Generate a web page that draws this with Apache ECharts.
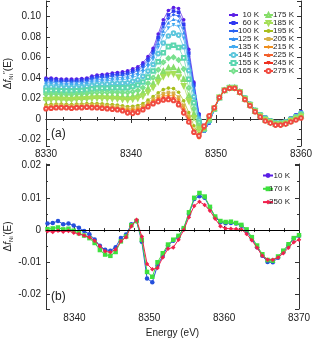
<!DOCTYPE html>
<html><head><meta charset="utf-8">
<script src="https://cdn.jsdelivr.net/npm/echarts@6/dist/echarts.min.js"></script>
<style>html,body{margin:0;padding:0;background:#fff}#c{width:312px;height:339px}</style>
</head><body><div id="c"></div>
<script>
// ---------- Panel (a) data ----------
const energyA = [8330.0,8330.6,8331.2,8331.8,8332.4,8333.0,8333.6,8334.2,8334.8,8335.4,8336.0,8336.6,8337.2,8337.8,8338.4,8339.0,8339.6,8340.2,8340.8,8341.4,8342.0,8342.6,8343.2,8343.8,8344.4,8345.0,8345.6,8346.2,8346.8,8347.4,8348.0,8348.6,8349.2,8349.8,8350.4,8351.0,8351.6,8352.2,8352.8,8353.4,8354.0,8354.6,8355.2,8355.8,8356.4,8357.0,8357.6,8358.2,8358.8,8359.4,8360.0];
const namesA = ['10 K','60 K','100 K','125 K','135 K','145 K','155 K','165 K','175 K','185 K','195 K','205 K','215 K','225 K','245 K','275 K'];
const a10  = [0.040,0.040,0.0395,0.039,0.039,0.039,0.039,0.0395,0.040,0.042,0.043,0.0435,0.044,0.045,0.0455,0.046,0.047,0.049,0.051,0.055,0.061,0.069,0.083,0.097,0.106,0.109,0.108,0.097,0.068,0.036,0.005,-0.012,-0.004,0.009,0.021,0.028,0.031,0.031,0.027,0.021,0.015,0.009,0.005,0.002,-0.001,-0.003,-0.003,-0.002,0.001,0.004,0.007];
const a60  = [0.0385,0.0385,0.0381,0.0376,0.0378,0.0374,0.0377,0.0381,0.0386,0.0404,0.0414,0.0418,0.0423,0.0432,0.0437,0.0441,0.045,0.0469,0.0488,0.0527,0.0585,0.0663,0.0797,0.0931,0.1017,0.1055,0.1043,0.0924,0.0644,0.0335,0.004,-0.0117,-0.0036,0.0091,0.021,0.028,0.031,0.031,0.027,0.021,0.015,0.009,0.0049,0.0018,-0.0012,-0.0032,-0.0032,-0.0022,0.0008,0.0037,0.0067];
const a100 = [0.0373,0.0371,0.0369,0.0365,0.0366,0.0364,0.0367,0.0369,0.0374,0.0392,0.0401,0.0405,0.0409,0.0418,0.0422,0.0426,0.0434,0.0452,0.0471,0.0509,0.0566,0.0641,0.0771,0.0899,0.0983,0.1019,0.1006,0.0888,0.0616,0.0316,0.0031,-0.0115,-0.0034,0.0092,0.0212,0.0282,0.0309,0.0309,0.0269,0.0208,0.0148,0.0088,0.0047,0.0016,-0.0013,-0.0033,-0.0033,-0.0023,0.0006,0.0035,0.0065];
const a125 = [0.0358,0.0359,0.0355,0.0351,0.0349,0.035,0.0353,0.0355,0.036,0.0377,0.0385,0.0389,0.0392,0.04,0.0404,0.0407,0.0414,0.0431,0.0449,0.0486,0.0541,0.0614,0.0738,0.086,0.094,0.0974,0.096,0.0843,0.0581,0.0291,0.0021,-0.0113,-0.003,0.0093,0.0208,0.0279,0.0309,0.0308,0.0269,0.0207,0.0147,0.0087,0.0046,0.0014,-0.0014,-0.0034,-0.0034,-0.0024,0.0004,0.0033,0.0062];
const a135 = [0.034,0.0341,0.0338,0.0334,0.0332,0.0333,0.0336,0.0338,0.0343,0.0358,0.0366,0.0369,0.0372,0.0379,0.0382,0.0384,0.039,0.0406,0.0423,0.0458,0.0512,0.0582,0.0698,0.0813,0.0888,0.092,0.0904,0.0788,0.0538,0.0262,0.0008,-0.011,-0.0026,0.0094,0.021,0.0281,0.0308,0.0308,0.0268,0.0206,0.0146,0.0086,0.0044,0.0012,-0.0016,-0.0036,-0.0036,-0.0026,0.0002,0.003,0.0058];
const a145 = [0.0313,0.0314,0.0312,0.0309,0.0307,0.0307,0.031,0.0312,0.0317,0.033,0.0337,0.0339,0.0341,0.0347,0.0349,0.035,0.0354,0.0368,0.0384,0.0417,0.0468,0.0533,0.0639,0.0742,0.0811,0.0839,0.082,0.0706,0.0474,0.0218,-0.0011,-0.0106,-0.002,0.0096,0.0211,0.028,0.0307,0.0307,0.0267,0.0204,0.0144,0.0084,0.0041,0.0008,-0.0019,-0.0039,-0.0039,-0.0029,-0.0002,0.0025,0.0053];
const a155 = [0.0277,0.0279,0.0278,0.0275,0.0273,0.0273,0.0276,0.0278,0.0283,0.0293,0.0299,0.03,0.0301,0.0304,0.0305,0.0304,0.0306,0.0318,0.0332,0.0361,0.0409,0.0469,0.0559,0.0648,0.0707,0.0721,0.0699,0.0597,0.0389,0.0159,-0.0036,-0.01,-0.0011,0.0098,0.0209,0.0281,0.0306,0.0306,0.0266,0.0202,0.0142,0.0082,0.0038,0.0004,-0.0022,-0.0042,-0.0042,-0.0032,-0.0006,0.002,0.0045];
const a165 = [0.0241,0.0244,0.0244,0.0242,0.024,0.0239,0.0243,0.0244,0.0249,0.0256,0.026,0.026,0.026,0.0262,0.0262,0.0259,0.0258,0.0267,0.0279,0.0306,0.035,0.0404,0.048,0.0554,0.0594,0.0603,0.0577,0.0488,0.0304,0.01,-0.0061,-0.0094,-0.0003,0.0101,0.0211,0.028,0.0305,0.0305,0.0265,0.0199,0.0139,0.0079,0.0034,0.0,-0.0026,-0.0046,-0.0046,-0.0036,-0.0011,0.0014,0.0038];
const a175 = [0.0208,0.0211,0.0213,0.0211,0.0209,0.0208,0.0212,0.0213,0.0218,0.0222,0.0225,0.0224,0.0222,0.0223,0.0221,0.0217,0.0214,0.0221,0.0232,0.0256,0.0296,0.0344,0.0408,0.0468,0.05,0.0504,0.0475,0.0388,0.0226,0.0046,-0.0084,-0.0088,0.0005,0.0103,0.021,0.0279,0.0304,0.0304,0.0264,0.0197,0.0137,0.0077,0.0031,-0.0006,-0.0029,-0.0049,-0.0049,-0.0039,-0.0016,0.0008,0.0032];
const a185 = [0.0187,0.0191,0.0193,0.0191,0.0189,0.0188,0.0192,0.0193,0.0198,0.02,0.0203,0.0201,0.0199,0.0198,0.0196,0.019,0.0186,0.0192,0.0201,0.0223,0.0262,0.0307,0.0361,0.0413,0.0439,0.0441,0.041,0.0324,0.0176,0.0012,-0.0099,-0.0085,0.001,0.0104,0.0211,0.028,0.0303,0.0303,0.0263,0.0196,0.0136,0.0076,0.0029,-0.0008,-0.0031,-0.0051,-0.0051,-0.0041,-0.0018,0.0005,0.0027];
const a195 = [0.0139,0.0143,0.0147,0.0146,0.0144,0.0142,0.0147,0.0147,0.0152,0.015,0.0152,0.0148,0.0144,0.0141,0.0137,0.0129,0.0122,0.0125,0.0132,0.015,0.0184,0.022,0.0256,0.0287,0.0302,0.0297,0.0261,0.0178,0.0062,-0.0066,-0.0145,-0.0077,0.0021,0.0107,0.021,0.0282,0.0301,0.0301,0.0261,0.0193,0.0133,0.0073,0.0024,-0.0015,-0.0036,-0.0056,-0.0056,-0.0046,-0.0025,-0.0003,0.0018];
const a205 = [0.0124,0.0128,0.0133,0.0133,0.0132,0.0128,0.0133,0.0133,0.0138,0.0135,0.0136,0.0131,0.0127,0.0123,0.0119,0.011,0.0102,0.0104,0.011,0.0127,0.0159,0.0193,0.0223,0.0248,0.0259,0.0252,0.0214,0.0133,0.0027,-0.011,-0.0165,-0.0074,0.0024,0.0108,0.0209,0.0279,0.0301,0.03,0.026,0.0192,0.0131,0.0072,0.0022,-0.0017,-0.0038,-0.0058,-0.0058,-0.0048,-0.0027,-0.0006,0.0015];
const a215 = [0.0115,0.012,0.0124,0.0124,0.0123,0.0119,0.0124,0.0124,0.0129,0.0126,0.0126,0.0122,0.0117,0.0113,0.0108,0.0099,0.009,0.0091,0.0097,0.0113,0.0145,0.0177,0.0203,0.0224,0.0233,0.0225,0.0187,0.0105,0.0005,-0.0125,-0.0185,-0.009,0.002,0.0108,0.0211,0.028,0.03,0.03,0.026,0.0191,0.0131,0.0071,0.0021,-0.0018,-0.0039,-0.0059,-0.0059,-0.0049,-0.0028,-0.0008,0.0013];
const a225 = [0.0109,0.0114,0.0119,0.0118,0.0117,0.0114,0.0118,0.0119,0.0124,0.0119,0.012,0.0115,0.011,0.0106,0.0101,0.0091,0.0082,0.0083,0.0088,0.0104,0.0135,0.0166,0.019,0.0209,0.0216,0.0207,0.0168,0.0087,-0.001,-0.013,-0.0178,-0.0085,0.0025,0.011,0.021,0.0281,0.03,0.03,0.026,0.019,0.013,0.0071,0.0021,-0.0019,-0.0039,-0.0059,-0.0059,-0.0049,-0.0029,-0.0008,0.0012];
const a245 = [0.0103,0.0108,0.0113,0.0113,0.0112,0.0108,0.0113,0.0113,0.0118,0.0114,0.0113,0.0109,0.0104,0.0099,0.0094,0.0085,0.0068,0.0064,0.0072,0.0097,0.0128,0.0158,0.018,0.0197,0.0203,0.0193,0.0155,0.0074,-0.002,-0.013,-0.0172,-0.0078,0.0028,0.011,0.0211,0.028,0.03,0.03,0.026,0.019,0.013,0.007,0.002,-0.0019,-0.004,-0.006,-0.006,-0.005,-0.003,-0.0009,0.0011];
const a275 = [0.010,0.0105,0.011,0.011,0.011,0.0105,0.011,0.011,0.0115,0.011,0.011,0.0105,0.010,0.0095,0.009,0.008,0.006,0.0055,0.0065,0.009,0.012,0.015,0.017,0.0185,0.019,0.018,0.014,0.006,-0.003,-0.013,-0.0165,-0.007,0.003,0.011,0.021,0.028,0.030,0.030,0.026,0.019,0.013,0.007,0.002,-0.002,-0.004,-0.006,-0.006,-0.005,-0.003,-0.001,0.001];
const valuesA = [a10,a60,a100,a125,a135,a145,a155,a165,a175,a185,a195,a205,a215,a225,a245,a275];

// ---------- Panel (b) data ----------
const energyB = [8336.4,8337.1,8337.8,8338.5,8339.2,8339.9,8340.6,8341.3,8342.0,8342.7,8343.4,8344.1,8344.8,8345.5,8346.2,8346.9,8347.6,8348.3,8349.0,8349.7,8350.4,8351.1,8351.8,8352.5,8353.2,8353.9,8354.6,8355.3,8356.0,8356.7,8357.4,8358.1,8358.8,8359.5,8360.2,8360.9,8361.6,8362.3,8363.0,8363.7,8364.4,8365.1,8365.8,8366.5,8367.2,8367.9,8368.6,8369.3,8370.0];
const namesB = ['10 K','170 K','250 K'];
const b10  = [0.0020,0.0022,0.0028,0.0018,0.0020,0.0014,0.0007,-0.0003,-0.0013,-0.0029,-0.0049,-0.0061,-0.0064,-0.0053,-0.0025,-0.0014,0.0018,0.0028,-0.0036,-0.0150,-0.0162,-0.0110,-0.0080,-0.0048,-0.0033,-0.0021,0.0005,0.0050,0.0096,0.0105,0.0100,0.0070,0.0040,0.0024,0.0021,0.0022,0.0020,0.0013,-0.0003,-0.0027,-0.0053,-0.0080,-0.0099,-0.0100,-0.0086,-0.0069,-0.0047,-0.0026,-0.0018];
const b170 = [0.0003,0.0005,0.0008,0.0002,0.0004,-0.0002,-0.0010,-0.0017,-0.0025,-0.0040,-0.0062,-0.0076,-0.0080,-0.0068,-0.0035,-0.0020,0.0015,0.0028,-0.0030,-0.0130,-0.0145,-0.0100,-0.0072,-0.0045,-0.0030,-0.0018,0.0006,0.0055,0.0100,0.0115,0.0104,0.0072,0.0042,0.0028,0.0025,0.0026,0.0022,0.0016,0.0002,-0.0022,-0.0048,-0.0075,-0.0093,-0.0095,-0.0082,-0.0064,-0.0044,-0.0025,-0.0016];
const b250 = [-0.0004,-0.0006,-0.0002,-0.0005,-0.0003,-0.0008,-0.0012,-0.0017,-0.0022,-0.0033,-0.0050,-0.0066,-0.0069,-0.0060,-0.0035,-0.0022,0.0012,0.0032,-0.0020,-0.0105,-0.0122,-0.0118,-0.0085,-0.0058,-0.0054,-0.0030,0.0000,0.0040,0.0075,0.0088,0.0078,0.0060,0.0035,0.0012,0.0005,0.0004,0.0003,0.0002,-0.0012,-0.0032,-0.0055,-0.0080,-0.0092,-0.0092,-0.0085,-0.0072,-0.0055,-0.0038,-0.0030];
const valuesB = [b10,b170,b250];

// tick steps for labelled values
const yStepA = 0.02, yStepB = 0.01, xStep = 10;

// ---------- styles ----------
const colA = ['#5a1ee6','#3038f0','#2a62f2','#3590f0','#44aaf0','#5cc6dc','#5cd6b0','#78e08e','#86dd6a','#a6df58','#a8be1a','#d8b24a','#f08e1c','#f2602c','#ee3020','#f04a40'];
const symA = ['circle','rect','diamond','triangle','triangle','emptyCircle','emptyRect','emptyDiamond','emptyTriangle','emptyTriangle','circle','rect','diamond','triangle','triangle','emptyCircle'];
const rotA = [0,0,0,0,180,0,0,0,0,180,0,0,0,0,180,0];
const colB = ['#2450dc','#3ee03e','#f0204c'];
const symB = ['circle','rect','diamond'];
const FONT = '"Liberation Sans", Arial, Helvetica, sans-serif';

const chart = echarts.init(document.getElementById('c'), null, {renderer:'canvas'});

const seriesA = namesA.map((n,i)=>({
  name:n, type:'line', xAxisIndex:0, yAxisIndex:0,
  data: energyA.map((e,k)=>[e, valuesA[i][k]]),
  symbol: symA[i], symbolSize: 3.6, symbolRotate: rotA[i],
  itemStyle:{color: colA[i], borderWidth: 0.7},
  lineStyle:{color: colA[i], width: 0.7},
  emphasis:{disabled:true}, animation:false, z: 2+i
}));
const seriesB = namesB.map((n,i)=>({
  name:n, type:'line', xAxisIndex:1, yAxisIndex:1,
  data: energyB.map((e,k)=>[e, valuesB[i][k]]),
  symbol: symB[i], symbolSize: 4.5,
  itemStyle:{color: colB[i]},
  lineStyle:{color: colB[i], width: 1},
  emphasis:{disabled:true}, animation:false, z: 2+i,
  markLine: i===0 ? {silent:true, symbol:'none', label:{show:false}, animation:false,
     lineStyle:{color:'#000', width:1, type:'solid'}, data:[{yAxis:0}]} : undefined
}));

const tk = {color:'#333'};
function ax(extra){
  return Object.assign({
    axisLine:{show:true, lineStyle:{color:'#333', width:1}},
    axisTick:{show:true, inside:true, length:4, lineStyle:tk},
    splitLine:{show:false}
  }, extra);
}
const lab = {fontFamily:FONT, fontSize:10, color:'#222'};
const onStep = (v, s) => Math.abs(v/s - Math.round(v/s)) < 1e-6;
const yFmtA = v => !onStep(v, yStepA) ? '' : (Math.abs(v) < 1e-9 ? '0' : v.toFixed(2));
const yFmtB = v => !onStep(v, yStepB) ? '' : (Math.abs(v) < 1e-9 ? '0' : v.toFixed(2));
const xFmt = v => !onStep(v, xStep) ? '' : String(Math.round(v));

const nameRich = {
  m:{fontFamily:FONT, fontSize:10, color:'#222'},
  i:{fontFamily:FONT, fontSize:10, fontStyle:'italic', color:'#222'},
  s:{fontFamily:FONT, fontSize:6, color:'#222', verticalAlign:'bottom', lineHeight:12},
  p:{fontFamily:FONT, fontSize:8, color:'#222', verticalAlign:'top', lineHeight:12}
};
const legText = (w, lh) => ({fontFamily:FONT, fontSize:8, color:'#222', lineHeight:lh,
  rich:{r:{width:w, align:'right', fontFamily:FONT, fontSize:8, lineHeight:lh, color:'#222'}}});

chart.setOption({
  backgroundColor:'#fff',
  animation:false,
  grid:[
    {left:46, top:1, width:255, height:145, outerBoundsMode:'none', containLabel:false},
    {left:46, top:164, width:253, height:145, outerBoundsMode:'none', containLabel:false}
  ],
  xAxis:[
    ax({type:'value', gridIndex:0, min:8330, max:8360, interval:10, position:'bottom',
        minorTick:{show:true, splitNumber:5, length:2, lineStyle:tk},
        axisLabel:Object.assign({margin:3, formatter:xFmt}, lab)}),
    ax({type:'value', gridIndex:1, min:8336.2, max:8370, splitNumber:4, position:'bottom',
        minorTick:{show:true, splitNumber:5, length:2, lineStyle:tk},
        axisLabel:Object.assign({margin:4, formatter:xFmt}, lab),
        name:'Energy (eV)', nameLocation:'middle', nameGap:19, nameMoveOverlap:false,
        nameTextStyle:{fontFamily:FONT, fontSize:10, color:'#222'}}),
    ax({type:'value', gridIndex:0, min:8330, max:8360, interval:10, position:'top',
        minorTick:{show:true, splitNumber:5, length:2, lineStyle:tk},
        axisLabel:{show:false}}),
    ax({type:'value', gridIndex:1, min:8336.2, max:8370, splitNumber:4, position:'top',
        minorTick:{show:true, splitNumber:5, length:2, lineStyle:tk},
        axisLabel:{show:false}})
  ],
  yAxis:[
    ax({type:'value', gridIndex:0, min:-0.0264, max:0.1153, splitNumber:7, position:'left',
        minorTick:{show:true, splitNumber:2, length:2, lineStyle:tk},
        axisLabel:Object.assign({margin:5, formatter:yFmtA}, lab),
        name:'{m|Δ}{i|f}{s|Ni}{p|″}{m|(E)}', nameLocation:'middle', nameRotate:90, nameGap:32,
        nameMoveOverlap:false, nameTextStyle:{rich:nameRich}}),
    ax({type:'value', gridIndex:1, min:-0.0245, max:0.0205, splitNumber:4, position:'left',
        minorTick:{show:true, splitNumber:2, length:2, lineStyle:tk},
        axisLabel:Object.assign({margin:5, formatter:yFmtB}, lab),
        name:'{m|Δ}{i|f}{s|Ni}{p|′}{m|(E)}', nameLocation:'middle', nameRotate:90, nameGap:32,
        nameMoveOverlap:false, nameTextStyle:{rich:nameRich}}),
    ax({type:'value', gridIndex:0, min:-0.0264, max:0.1153, splitNumber:7, position:'right',
        minorTick:{show:true, splitNumber:2, length:2, lineStyle:tk},
        axisLabel:{show:false}}),
    ax({type:'value', gridIndex:1, min:-0.0245, max:0.0205, splitNumber:4, position:'right',
        minorTick:{show:true, splitNumber:2, length:2, lineStyle:tk},
        axisLabel:{show:false}})
  ],
  legend:[
    {data:namesA.slice(0,8), orient:'vertical', left:223, top:6, itemWidth:9, itemHeight:5, itemGap:0,
     selectedMode:false, formatter:n=>'{r|'+n+'}', textStyle:legText(16, 7.7)},
    {data:namesA.slice(8), orient:'vertical', left:258, top:6, itemWidth:9, itemHeight:5, itemGap:0,
     selectedMode:false, formatter:n=>'{r|'+n+'}', textStyle:legText(16, 7.7)},
    {data:namesB, orient:'vertical', left:257, top:166, itemWidth:10, itemHeight:6, itemGap:4.3,
     selectedMode:false, formatter:n=>'{r|'+n+'}', textStyle:legText(12, 9)}
  ],
  graphic:[
    {type:'text', left:51, top:128, style:{text:'(a)', fontFamily:FONT, fontSize:12, fill:'#222'}},
    {type:'text', left:51, top:291, style:{text:'(b)', fontFamily:FONT, fontSize:12, fill:'#222'}}
  ],
  series: seriesA.concat(seriesB)
});
</script>
</body></html>
